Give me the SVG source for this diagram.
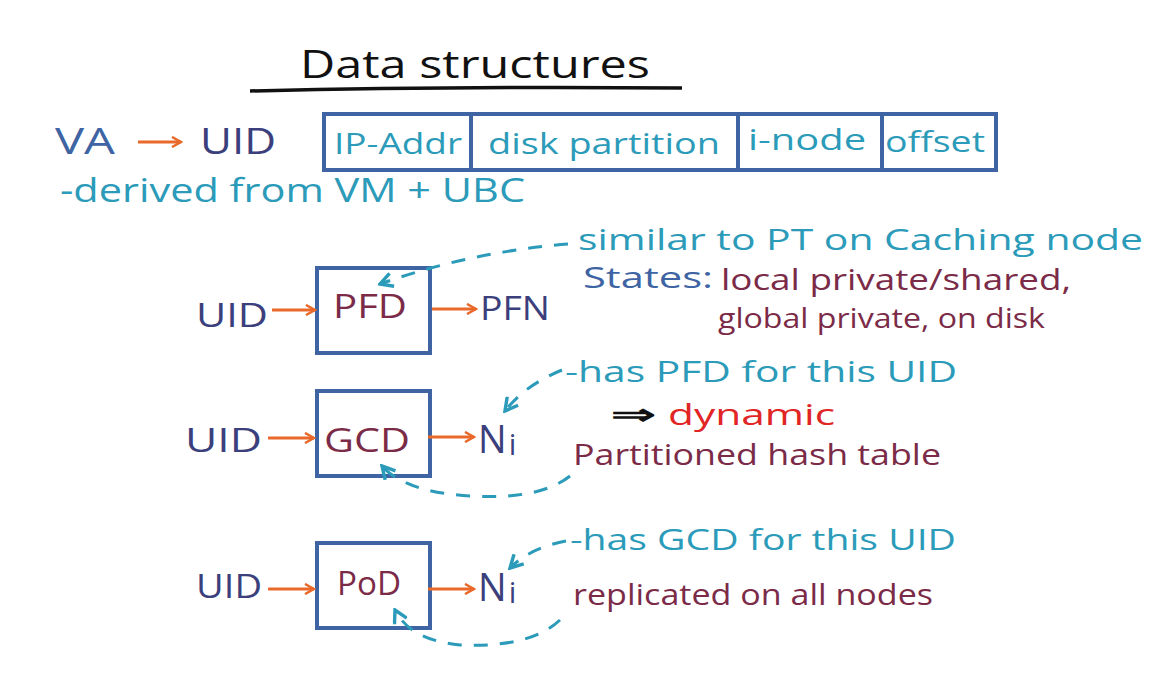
<svg xmlns="http://www.w3.org/2000/svg" width="1169" height="679" viewBox="0 0 1169 679">
<defs>
<style>
text{font-family:"Open Sans","Liberation Sans",sans-serif;}
.navy{fill:#3b3f7c}
.teal{fill:#2b9bb9}
.maroon{fill:#7b2b47}
.blue{fill:#3e64a4}
.red{fill:#e12525}
.box{fill:#fff;stroke:#3e64a4;stroke-width:4}
.arr{stroke:#e8692a;stroke-width:3;fill:none}
.dash{stroke:#2b9bb9;stroke-width:3;fill:none;stroke-dasharray:14 12}
</style>
<marker id="oa" viewBox="0 0 12 12" refX="10" refY="6" markerWidth="12" markerHeight="12" markerUnits="userSpaceOnUse" orient="auto">
<path d="M1,1 L10,6 L1,11" fill="none" stroke="#e8692a" stroke-width="2.5"/>
</marker>
<marker id="ta" viewBox="0 0 14 14" refX="12" refY="7" markerWidth="16" markerHeight="16" markerUnits="userSpaceOnUse" orient="auto">
<path d="M1,1 L12,7 L1,13" fill="none" stroke="#2b9bb9" stroke-width="3"/>
</marker>
</defs>
<rect width="1169" height="679" fill="#fff"/>

<g id="title">
<text x="300" y="78" font-size="38" fill="#111" textLength="350" lengthAdjust="spacingAndGlyphs">Data structures</text>
<path d="M250,91 Q460,86 682,88" stroke="#111" stroke-width="3.5" fill="none"/>
</g>

<g id="va">
<text x="55" y="154" font-size="36" class="blue" textLength="60" lengthAdjust="spacingAndGlyphs">VA</text>
<text x="200" y="154" font-size="36" class="navy" textLength="76" lengthAdjust="spacingAndGlyphs">UID</text>
<text x="60" y="202" font-size="32" class="teal" textLength="465" lengthAdjust="spacingAndGlyphs">-derived from VM + UBC</text>
</g>

<g id="uid-table">
<rect x="324" y="114" width="672" height="56" class="box"/>
<line x1="471" y1="114" x2="471" y2="170" stroke="#3e64a4" stroke-width="4"/>
<line x1="738" y1="114" x2="738" y2="170" stroke="#3e64a4" stroke-width="4"/>
<line x1="882" y1="114" x2="882" y2="170" stroke="#3e64a4" stroke-width="4"/>
<text x="334" y="154" font-size="30" class="teal" textLength="128" lengthAdjust="spacingAndGlyphs">IP-Addr</text>
<text x="488" y="154" font-size="30" class="teal" textLength="232" lengthAdjust="spacingAndGlyphs">disk partition</text>
<text x="748" y="150" font-size="30" class="teal" textLength="118" lengthAdjust="spacingAndGlyphs">i-node</text>
<text x="885" y="152" font-size="30" class="teal" textLength="100" lengthAdjust="spacingAndGlyphs">offset</text>
</g>

<g id="pfd">
<text x="196" y="327" font-size="32" class="navy" textLength="72" lengthAdjust="spacingAndGlyphs">UID</text>
<rect x="317" y="268" width="113" height="85" class="box"/>
<text x="333" y="318" font-size="32" class="maroon" textLength="74" lengthAdjust="spacingAndGlyphs">PFD</text>
<text x="480" y="320" font-size="32" class="navy" textLength="70" lengthAdjust="spacingAndGlyphs">PFN</text>
</g>

<g id="pfd-notes">
<text x="578" y="250" font-size="30" class="teal" textLength="565" lengthAdjust="spacingAndGlyphs">similar to PT on Caching node</text>
<text x="583" y="288" font-size="30" class="blue" textLength="130" lengthAdjust="spacingAndGlyphs">States:</text>
<text x="721" y="290" font-size="30" class="maroon" textLength="350" lengthAdjust="spacingAndGlyphs">local private/shared,</text>
<text x="718" y="328" font-size="28" class="maroon" textLength="327" lengthAdjust="spacingAndGlyphs">global private, on disk</text>
</g>

<g id="gcd">
<text x="185" y="452" font-size="32" class="navy" textLength="77" lengthAdjust="spacingAndGlyphs">UID</text>
<rect x="317" y="391" width="113" height="85" class="box"/>
<text x="324" y="452" font-size="32" class="maroon" textLength="86" lengthAdjust="spacingAndGlyphs">GCD</text>
<text x="478" y="453" font-size="38" class="navy">N<tspan font-size="30" dx="2" dy="2">i</tspan></text>
</g>

<g id="gcd-notes">
<text x="565" y="382" font-size="30" class="teal" textLength="392" lengthAdjust="spacingAndGlyphs">-has PFD for this UID</text>
<text x="611" y="424" font-size="28" font-weight="bold" fill="#111" textLength="44" lengthAdjust="spacingAndGlyphs">⇒</text>
<text x="668" y="425" font-size="30" class="red" textLength="167" lengthAdjust="spacingAndGlyphs">dynamic</text>
<text x="573" y="465" font-size="30" class="maroon" textLength="368" lengthAdjust="spacingAndGlyphs">Partitioned hash table</text>
</g>

<g id="pod">
<text x="196" y="598" font-size="32" class="navy" textLength="66" lengthAdjust="spacingAndGlyphs">UID</text>
<rect x="317" y="543" width="113" height="85" class="box"/>
<text x="337" y="595" font-size="32" class="maroon" textLength="64" lengthAdjust="spacingAndGlyphs">PoD</text>
<text x="478" y="601" font-size="38" class="navy">N<tspan font-size="30" dx="2" dy="2">i</tspan></text>
</g>

<g id="pod-notes">
<text x="570" y="550" font-size="30" class="teal" textLength="386" lengthAdjust="spacingAndGlyphs">-has GCD for this UID</text>
<text x="573" y="605" font-size="30" class="maroon" textLength="360" lengthAdjust="spacingAndGlyphs">replicated on all nodes</text>
</g>

<g id="connectors">
<line x1="138" y1="142" x2="181" y2="142" class="arr" marker-end="url(#oa)"/>
<line x1="272" y1="310" x2="315" y2="310" class="arr" marker-end="url(#oa)"/>
<line x1="432" y1="309" x2="476" y2="309" class="arr" marker-end="url(#oa)"/>
<line x1="268" y1="438" x2="314" y2="438" class="arr" marker-end="url(#oa)"/>
<line x1="428" y1="437" x2="474" y2="437" class="arr" marker-end="url(#oa)"/>
<line x1="268" y1="589" x2="314" y2="589" class="arr" marker-end="url(#oa)"/>
<line x1="428" y1="589" x2="474" y2="589" class="arr" marker-end="url(#oa)"/>
<path d="M568,244 Q470,252 380,284" class="dash" marker-end="url(#ta)"/>
<path d="M562,370 Q525,385 505,411" class="dash" marker-end="url(#ta)"/>
<path d="M570,476 Q540,500 470,496 Q405,492 382,466" class="dash" marker-end="url(#ta)"/>
<path d="M566,541 Q530,548 510,568" class="dash" marker-end="url(#ta)"/>
<path d="M560,620 Q530,648 460,645 Q410,640 395,610" class="dash" marker-end="url(#ta)"/>
</g>
</svg>
